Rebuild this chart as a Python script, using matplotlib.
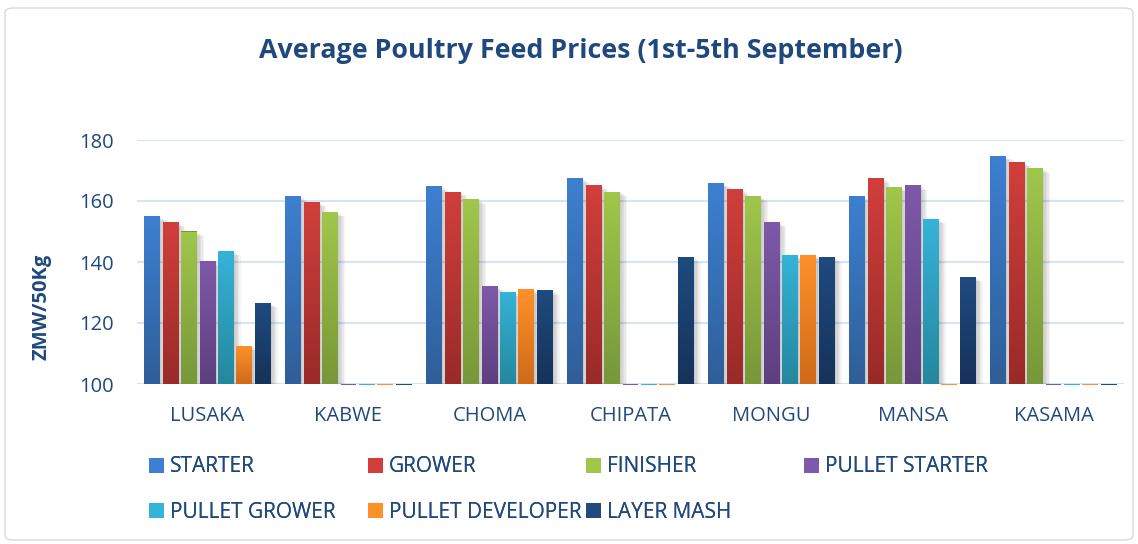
import numpy as np
import matplotlib
matplotlib.use("Agg")
import matplotlib.pyplot as plt
from matplotlib import patheffects as pe
from matplotlib.patches import Patch, FancyBboxPatch
from matplotlib.colors import LinearSegmentedColormap

# ---- data ----
towns = ["LUSAKA", "KABWE", "CHOMA", "CHIPATA", "MONGU", "MANSA", "KASAMA"]
series_names = ["STARTER", "GROWER", "FINISHER", "PULLET STARTER",
                "PULLET GROWER", "PULLET DEVELOPER", "LAYER MASH"]
starter = [155.0, 161.5, 164.8, 167.4, 165.8, 161.5, 174.7]
grower = [153.0, 159.6, 163.1, 165.1, 163.8, 167.4, 172.7]
finisher = [150.0, 156.3, 160.5, 163.1, 161.5, 164.5, 170.7]
pullet_starter = [140.2, 0, 132.0, 0, 153.0, 165.1, 0]
pullet_grower = [143.5, 0, 130.1, 0, 142.2, 154.0, 0]
pullet_developer = [112.4, 0, 131.0, 0, 142.2, 0, 0]
layer_mash = [126.5, 0, 130.7, 141.5, 141.5, 135.0, 0]
yticks = [100, 120, 140, 160, 180]

series = [starter, grower, finisher, pullet_starter, pullet_grower,
          pullet_developer, layer_mash]
colors = [("#3D80D1", "#2F5E98"), ("#D13F3B", "#992A28"),
          ("#A0C74A", "#779739"), ("#7E59A9", "#5D3F7F"),
          ("#36B3D8", "#24879E"), ("#FF912A", "#CF6A19"),
          ("#1F4B7F", "#15325A")]

TXT = "#1F497D"
FONT = "Open Sans"
plt.rcParams["font.family"] = [FONT, "DejaVu Sans"]

fig = plt.figure(figsize=(11.38, 5.44), dpi=100)
W, H = 1138, 544
ax = fig.add_axes([137 / W, 1 - 384 / H, (1124 - 137) / W, (384 - 140) / H])

ymin, ymax = 100, 180
x = np.arange(len(towns))
step = 0.131
bw = 0.113
nser = len(series)

shadow = [pe.SimplePatchShadow(offset=(o, -o * 0.6), shadow_rgbFace="k",
                               alpha=0.045) for o in (1, 2, 3, 4, 5)]

for i, (vals, (ctop, cbot)) in enumerate(zip(series, colors)):
    xs = x + (i - (nser - 1) / 2) * step
    vals = np.array(vals, dtype=float)
    for xi, v in zip(xs, vals):
        if v > ymin:
            rect = ax.bar(xi, v - ymin, bottom=ymin, width=bw, color=cbot,
                          zorder=3, linewidth=0)[0]
            rect.set_path_effects(shadow + [pe.Normal()])
            cmap = LinearSegmentedColormap.from_list("g", [cbot, ctop])
            grad = np.linspace(0, 1, 256).reshape(-1, 1)
            im = ax.imshow(grad, extent=[xi - bw / 2, xi + bw / 2, ymin, v],
                           origin="lower", aspect="auto", cmap=cmap,
                           zorder=4, interpolation="bicubic")
            im.set_clip_path(rect)
        else:
            ax.bar(xi, 0.35, bottom=ymin - 0.45, width=bw, color=ctop,
                   zorder=3, linewidth=0, clip_on=False)

ax.set_xlim(-0.5, len(towns) - 0.5)
ax.set_ylim(ymin, ymax)
ax.set_yticks(yticks)
ax.set_xticks(x)
ax.set_xticklabels(towns)
for s in ax.spines.values():
    s.set_visible(False)
ax.grid(axis="y", color="#D9E4F1", linewidth=1.6, zorder=0)
ax.set_axisbelow(True)
ax.tick_params(axis="both", length=0, labelsize=14.5, labelcolor=TXT)
ax.tick_params(axis="y", pad=17)
ax.tick_params(axis="x", pad=16)

fig.text(581 / W, 1 - 51 / H, "Average Poultry Feed Prices (1st-5th September)",
         ha="center", va="center", fontsize=19.3, fontweight="bold", color=TXT)
fig.text(42 / W, 1 - 307 / H, "ZMW/50Kg", rotation=90, ha="center", va="center",
         fontsize=14.5, fontweight="bold", color=TXT)

# legend: 4 equal-pitch columns, row-major order
col_x = [151, 370, 588, 806]
row_y = [467, 512]
for k, name in enumerate(series_names):
    r, c = divmod(k, 4)
    h = [Patch(facecolor=colors[k][0], edgecolor="none")]
    leg = fig.legend(h, [name], loc="center left",
                     bbox_to_anchor=((col_x[c] - 2) / W, 1 - row_y[r] / H),
                     frameon=False, fontsize=15, handlelength=0.7,
                     handleheight=0.7, handletextpad=0.3, borderpad=0,
                     borderaxespad=0)
    for t in leg.get_texts():
        t.set_color(TXT)
    fig.add_artist(leg)

border = FancyBboxPatch((5 / W, 4 / H), (W - 10) / W, (H - 12) / H,
                        boxstyle="round,pad=0,rounding_size=0.008",
                        transform=fig.transFigure, facecolor="none",
                        edgecolor="#D9D9D9", linewidth=1.0)
fig.patches.append(border)

fig.savefig("out.png", dpi=100)
